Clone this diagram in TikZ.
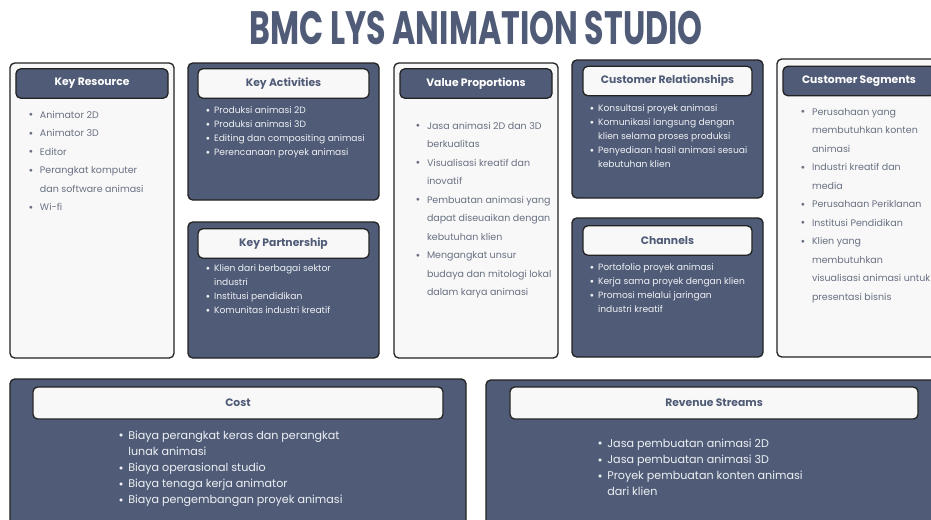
\documentclass[tikz,border=0pt]{standalone}
\usepackage{fontspec}
\setmainfont{Poppins}
\usepackage{graphicx}
\usepackage{tikz}
\usetikzlibrary{positioning}

\definecolor{slate}{HTML}{505C77}
\definecolor{paper}{HTML}{F8F8F8}
\definecolor{edge}{HTML}{222222}
\definecolor{greytext}{HTML}{687082}
\definecolor{softwhite}{HTML}{EEF0F4}

\newcommand{\dotitem}{\raisebox{0.25ex}{\scalebox{0.75}{$\bullet$}}}
\newenvironment{blist}[1]{\begin{tabular}{@{}l@{\hspace{#1}}l@{}}}{\end{tabular}}

\begin{document}
\begin{tikzpicture}[
  x=0.03cm, y=-0.03cm,
  panel/.style={draw=edge, line width=1.1pt, rounded corners=4pt},
  lightpanel/.style={panel, fill=paper},
  darkpanel/.style={panel, fill=slate},
  head/.style={draw=edge, line width=1.1pt, rounded corners=4pt, minimum height=0.88cm, inner sep=0pt, font=\fontsize{9.2}{10}\selectfont\bfseries},
  darkhead/.style={head, fill=slate, text=white},
  lighthead/.style={head, fill=paper, text=slate},
  lightlist/.style={anchor=north west, inner sep=0pt, text=greytext, font=\fontsize{8.1}{15.8}\selectfont},
  darklist/.style={anchor=north west, inner sep=0pt, text=softwhite, font=\fontsize{7.8}{11.8}\selectfont},
  bottomlist/.style={anchor=north west, inner sep=0pt, text=softwhite, font=\fontsize{9.5}{13.7}\selectfont}
]
  \clip (0,0) rectangle (931,519);

  % Title
  \node[text=slate, inner sep=0pt] (title) at (476,28)
    {\resizebox{13.6cm}{1.0cm}{\bfseries BMC LYS ANIMATION STUDIO}};

  % Panels
  \draw[lightpanel] (10,63) rectangle (174,358);
  \draw[darkpanel] (188,63) rectangle (379,200);
  \draw[darkpanel] (188,222) rectangle (379,358);
  \draw[lightpanel] (394,63) rectangle (558,358);
  \draw[darkpanel] (572,60) rectangle (763,198);
  \draw[darkpanel] (572,218) rectangle (763,357);
  \draw[lightpanel] (777,59) rectangle (941,357);
  \draw[darkpanel] (10,379) rectangle (466,540);
  \draw[darkpanel] (486,380) rectangle (942,540);

  % Headers
  \node[darkhead, minimum width=4.56cm] (kr) at (92,83.5) {Key Resource};
  \node[lighthead, minimum width=5.13cm] (ka) at (283.5,83.5) {Key Activities};
  \node[lighthead, minimum width=5.13cm] (kp) at (283.5,243.5) {Key Partnership};
  \node[darkhead, minimum width=4.56cm] (vp) at (476,83.5) {Value Proportions};
  \node[lighthead, minimum width=5.07cm] (cr) at (667.5,81) {Customer Relationships};
  \node[lighthead, minimum width=5.07cm] (ch) at (667.5,240.5) {Channels};
  \node[darkhead, minimum width=4.56cm] (cs) at (859,81) {Customer Segments};
  \node[lighthead, minimum width=12.3cm, minimum height=0.96cm] (cost) at (238,403) {Cost};
  \node[lighthead, minimum width=12.24cm, minimum height=0.96cm] (rs) at (714,403) {Revenue Streams};

  % Lists
  \node[lightlist] (krlist) at (29,105) {\begin{blist}{6pt}
    \dotitem & Animator 2D\\
    \dotitem & Animator 3D\\
    \dotitem & Editor\\
    \dotitem & Perangkat komputer\\
             & dan software animasi\\
    \dotitem & Wi-fi
  \end{blist}};
  \node[darklist] (kalist) at (206,104) {\begin{blist}{3.5pt}
    \dotitem & Produksi animasi 2D\\
    \dotitem & Produksi animasi 3D\\
    \dotitem & Editing dan compositing animasi\\
    \dotitem & Perencanaan proyek animasi
  \end{blist}};
  \node[darklist] (kplist) at (206,262) {\begin{blist}{3.5pt}
    \dotitem & Klien dari berbagai sektor\\
             & industri\\
    \dotitem & Institusi pendidikan\\
    \dotitem & Komunitas industri kreatif
  \end{blist}};
  \node[lightlist] (vplist) at (416,116) {\begin{blist}{6pt}
    \dotitem & Jasa animasi 2D dan 3D\\
             & berkualitas\\
    \dotitem & Visualisasi kreatif dan\\
             & inovatif\\
    \dotitem & Pembuatan animasi yang\\
             & dapat diseuaikan dengan\\
             & kebutuhan klien\\
    \dotitem & Mengangkat unsur\\
             & budaya dan mitologi lokal\\
             & dalam karya animasi
  \end{blist}};
  \node[darklist] (crlist) at (590,102) {\begin{blist}{3.5pt}
    \dotitem & Konsultasi proyek animasi\\
    \dotitem & Komunikasi langsung dengan\\
             & klien selama proses produksi\\
    \dotitem & Penyediaan hasil animasi sesuai\\
             & kebutuhan klien
  \end{blist}};
  \node[darklist] (chlist) at (590,261) {\begin{blist}{3.5pt}
    \dotitem & Portofolio proyek animasi\\
    \dotitem & Kerja sama proyek dengan klien\\
    \dotitem & Promosi melalui jaringan\\
             & industri kreatif
  \end{blist}};
  \node[lightlist] (cslist) at (801,102) {\begin{blist}{6pt}
    \dotitem & Perusahaan yang\\
             & membutuhkan konten\\
             & animasi\\
    \dotitem & Industri kreatif dan\\
             & media\\
    \dotitem & Perusahaan Periklanan\\
    \dotitem & Institusi Pendidikan\\
    \dotitem & Klien yang\\
             & membutuhkan\\
             & visualisasi animasi untuk\\
             & presentasi bisnis
  \end{blist}};
  \node[bottomlist] (costlist) at (119,428) {\begin{blist}{4.3pt}
    \dotitem & Biaya perangkat keras dan perangkat\\
             & lunak animasi\\
    \dotitem & Biaya operasional studio\\
    \dotitem & Biaya tenaga kerja animator\\
    \dotitem & Biaya pengembangan proyek animasi
  \end{blist}};
  \node[bottomlist] (rslist) at (598,436) {\begin{blist}{4.3pt}
    \dotitem & Jasa pembuatan animasi 2D\\
    \dotitem & Jasa pembuatan animasi 3D\\
    \dotitem & Proyek pembuatan konten animasi\\
             & dari klien
  \end{blist}};
\end{tikzpicture}
\end{document}
